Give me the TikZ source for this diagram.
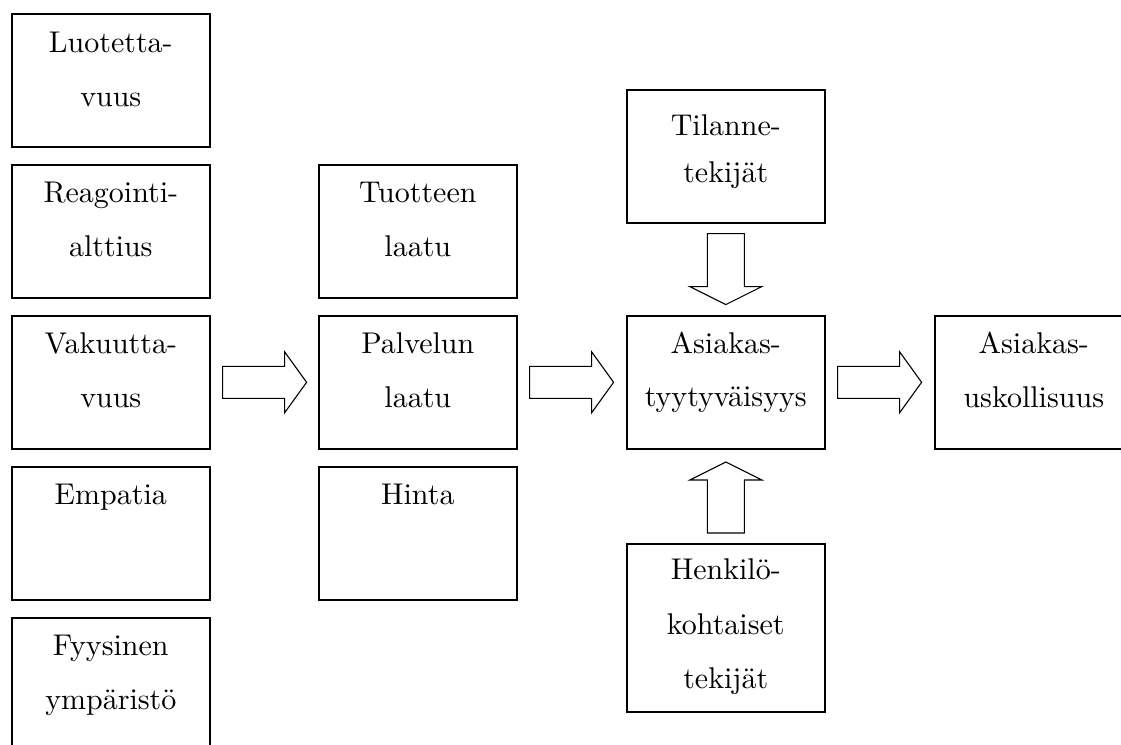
\documentclass[tikz,border=0pt]{standalone}
\usepackage{fontspec}
\setmainfont{lmroman10-regular}[Extension=.otf]
\usetikzlibrary{calc}
\tikzset{
  box/.style={draw, line width=1.6pt, inner sep=0pt, anchor=north west},
  blockarrow/.style={draw, line width=1.1pt, line join=miter},
}
% text block inside a box: #1 box height, #2 first baseline below top,
% #3 line distance, #4 the lines
\newcommand{\boxtext}[4]{\parbox[t][#1][t]{198pt}{\centering
  \fontsize{30}{#3}\selectfont\rule{0pt}{#2}#4}}
\begin{document}
\begin{tikzpicture}[x=1pt, y=-1pt]
  \useasboundingbox (0,0) rectangle (1121,744);
  % dimensions of service quality
  \node[box] (luo) at (11,13)  {\boxtext{133pt}{39pt}{54pt}{Luotetta-\\vuus}};
  \node[box] (rea) at (11,164) {\boxtext{133pt}{38pt}{54pt}{Reagointi-\\alttius}};
  \node[box] (vak) at (11,315) {\boxtext{133pt}{38pt}{54pt}{Vakuutta-\\vuus}};
  \node[box] (emp) at (11,466) {\boxtext{133pt}{38pt}{54pt}{Empatia}};
  \node[box] (fyy) at (11,617) {\boxtext{133pt}{38pt}{54pt}{Fyysinen\\ympäristö}};
  % quality and price
  \node[box] (tuo) at (318,164) {\boxtext{133pt}{38pt}{54pt}{Tuotteen\\laatu}};
  \node[box] (pal) at (318,315) {\boxtext{133pt}{38pt}{54pt}{Palvelun\\laatu}};
  \node[box] (hin) at (318,466) {\boxtext{133pt}{38pt}{54pt}{Hinta}};
  % satisfaction and its factors
  \node[box] (til) at (626,89)  {\boxtext{133pt}{46pt}{47pt}{Tilanne-\\tekijät}};
  \node[box] (asi) at (626,315) {\boxtext{133pt}{38pt}{53pt}{Asiakas-\\tyytyväisyys}};
  \node[box] (hen) at (626,543) {\boxtext{168pt}{36pt}{54.5pt}{Henkilö-\\kohtaiset\\tekijät}};
  % loyalty
  \node[box] (usk) at (934,315) {\boxtext{133pt}{38pt}{54pt}{Asiakas-\\uskollisuus}};

  % horizontal block arrows
  \draw[blockarrow] ($(vak.east)+(12,-16)$) -- ++(62,0) -- ++(0,-14.5) -- ++(22,30.5)
    -- ++(-22,30.5) -- ++(0,-14.5) -- ++(-62,0) -- cycle;
  \draw[blockarrow] ($(pal.east)+(12,-16)$) -- ++(62,0) -- ++(0,-14.5) -- ++(22,30.5)
    -- ++(-22,30.5) -- ++(0,-14.5) -- ++(-62,0) -- cycle;
  \draw[blockarrow] ($(asi.east)+(12,-16)$) -- ++(62,0) -- ++(0,-14.5) -- ++(22,30.5)
    -- ++(-22,30.5) -- ++(0,-14.5) -- ++(-62,0) -- cycle;
  % vertical block arrows
  \draw[blockarrow] ($(til.south)+(-18.5,10)$) -- ++(0,53) -- ++(-17.5,0) -- ++(36,18)
    -- ++(36,-18) -- ++(-17.5,0) -- ++(0,-53) -- cycle;
  \draw[blockarrow] ($(hen.north)+(-18.5,-10)$) -- ++(0,-53) -- ++(-17.5,0) -- ++(36,-18)
    -- ++(36,18) -- ++(-17.5,0) -- ++(0,53) -- cycle;
\end{tikzpicture}
\end{document}
